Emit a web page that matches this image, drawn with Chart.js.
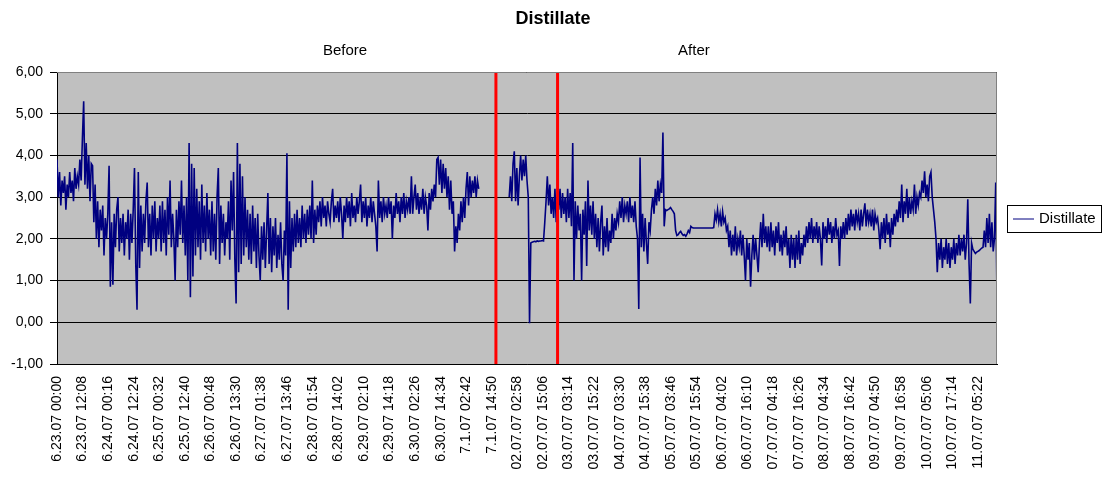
<!DOCTYPE html>
<html>
<head>
<meta charset="utf-8">
<script src="https://cdn.jsdelivr.net/npm/chart.js@4.4.1/dist/chart.umd.min.js"></script>
<style>
  html, body { margin: 0; padding: 0; background: #fff; }
  canvas { display: block; }
</style>
</head>
<body>
<canvas id="distChart" width="1108" height="482"></canvas>
<script>
// axis labels (one every ~12 h of samples)
const tickLabels = [
    "6.23.07 00:00", "6.23.07 12:08", "6.24.07 00:16", "6.24.07 12:24", "6.25.07 00:32",
    "6.25.07 12:40", "6.26.07 00:48", "6.26.07 13:30", "6.27.07 01:38", "6.27.07 13:46",
    "6.28.07 01:54", "6.28.07 14:02", "6.29.07 02:10", "6.29.07 14:18", "6.30.07 02:26",
    "6.30.07 14:34", "7.1.07 02:42", "7.1.07 14:50", "02.07.07 02:58", "02.07.07 15:06",
    "03.07.07 03:14", "03.07.07 15:22", "04.07.07 03:30", "04.07.07 15:38", "05.07.07 03:46",
    "05.07.07 15:54", "06.07.07 04:02", "06.07.07 16:10", "07.07.07 04:18", "07.07.07 16:26",
    "08.07.07 04:34", "08.07.07 16:42", "09.07.07 04:50", "09.07.07 16:58", "10.07.07 05:06",
    "10.07.07 17:14", "11.07.07 05:22"
];

// readings, 20 per label interval (null = no data)
const distillate = [
    3.9, 3.0, 3.6, 2.8, 3.4, 3.1, 3.5, 2.7, 3.3, 3.0, 3.6, 3.1, 3.4, 2.9, 3.7, 3.2, 3.5, 3.3, 3.9, 3.4,
    4.4, 5.3, 3.3, 4.3, 3.2, 4.0, 2.9, 3.8, 3.75, 2.4, 3.3, 2.0, 2.9, 1.8, 2.7, 2.2, 2.8, 1.6, 2.5, 2.0,
    2.6, 3.75, 0.85, 2.4, 0.9, 2.6, 1.8, 2.7, 3.0, 1.7, 2.5, 1.9, 2.6, 1.6, 2.4, 2.0, 2.7, 1.5, 2.6, 1.9,
    2.7, 3.7, 1.4, 0.3, 3.6, 1.3, 2.8, 1.7, 2.6, 1.9, 2.9, 3.35, 1.8, 2.6, 1.6, 2.8, 2.0, 2.9, 1.7, 2.5,
    2.0, 2.8, 1.7, 2.9, 1.9, 2.7, 1.6, 3.0, 2.1, 3.4, 1.8, 2.6, 2.0, 1.0, 2.7, 1.8, 2.9, 2.1, 3.4, 1.9,
    2.8, 1.6, 3.0, 1.0, 4.3, 0.6, 3.8, 1.1, 3.7, 1.6, 3.2, 1.8, 2.9, 1.5, 3.3, 1.9, 2.8, 1.7, 3.1, 2.0,
    2.7, 1.6, 2.9, 1.7, 2.6, 1.5, 3.0, 3.7, 1.4, 2.8, 1.9, 2.6, 1.6, 2.4, 2.0, 2.9, 1.5, 3.4, 2.2, 3.6,
    1.5, 0.45, 4.3, 1.2, 3.8, 1.4, 3.5, 1.6, 3.0, 1.8, 2.7, 1.5, 2.6, 1.4, 2.8, 1.7, 2.5, 1.3, 2.6, 1.6,
    1.0, 2.3, 1.5, 2.4, 1.3, 2.2, 3.1, 1.4, 2.5, 1.2, 2.3, 1.6, 2.5, 1.3, 2.1, 1.5, 2.4, 1.4, 1.0, 2.2,
    1.6, 4.05, 0.3, 2.9, 1.3, 2.5, 1.7, 2.6, 1.8, 2.7, 1.9, 2.5, 1.8, 2.8, 2.0, 2.6, 1.9, 2.7, 2.1, 2.8,
    2.0, 3.4, 1.9, 2.7, 2.1, 2.8, 2.4, 2.9, 2.3, 3.0, 2.5, 2.8, 2.3, 2.9, 2.6, 2.4, 2.9, 3.2, 2.4, 2.8,
    2.5, 2.9, 2.4, 3.0, 2.6, 2.0, 2.8, 2.4, 3.0, 2.5, 2.9, 2.3, 3.1, 2.5, 2.8, 2.4, 3.0, 2.6, 2.9, 3.3,
    2.4, 2.9, 2.5, 3.0, 2.3, 2.8, 2.5, 3.0, 2.4, 2.9, 2.6, 2.3, 1.7, 3.4, 2.5, 2.9, 2.4, 3.0, 2.6, 2.8,
    2.5, 3.0, 2.6, 2.9, 2.0, 2.8, 2.5, 3.1, 2.6, 2.9, 2.4, 3.0, 2.6, 3.1, 2.5, 2.9, 2.7, 3.0, 2.6, 3.5,
    2.6, 3.0, 3.3, 2.7, 3.1, 2.6, 3.0, 2.7, 3.2, 2.6, 3.0, 2.8, 2.2, 3.1, 2.7, 3.2, 2.9, 3.3, 3.0, 3.9,
    3.95, 3.3, 3.9, 3.1, 3.8, 3.2, 3.7, 3.0, 3.5, 2.7, 3.4, 2.6, 2.9, 1.7, 2.3, 1.9, 2.6, 2.2, 2.9, 2.4,
    3.0, 2.5, 3.2, 3.6, 2.8, 3.5, 3.0, 3.4, 3.1, 3.5, 3.0, 3.4, 3.2, null, null, null, null, null, null, null,
    null, null, null, null, null, null, null, null, null, null, null, null, null, null, null, null, 3.0, 3.5, 2.9, 3.8,
    4.1, 2.9, 3.7, 2.8, 3.5, 4.0, 3.4, 3.9, 3.5, 4.0, 3.4, 3.0, -0.02, 1.9, 1.92, 1.93, 1.94, 1.93, 1.95, 1.94,
    1.95, 1.95, 1.96, 1.95, 2.4, 2.9, 3.5, 2.8, 3.3, 2.6, 3.0, 2.5, 3.2, 2.4, 3.0, 2.7, 3.2, 2.5, 3.1, 2.6,
    3.0, 2.4, 3.2, 2.5, 3.1, 2.3, 4.3, 1.0, 2.9, 2.0, 2.8, 2.2, 2.6, 1.0, 2.7, 2.1, 2.9, 1.35, 3.4, 2.2,
    2.8, 2.1, 2.9, 2.0, 2.6, 1.8, 2.5, 1.7, 2.4, 2.8, 1.6, 2.3, 1.8, 2.5, 1.7, 2.2, 1.9, 2.6, 2.0, 2.5,
    2.2, 2.6, 2.4, 2.9, 2.5, 3.0, 2.4, 2.8, 2.6, 2.9, 2.4, 3.0, 2.5, 2.8, 2.4, 2.9, 2.3, 2.0, 0.32, 3.95,
    1.8, 2.6, 1.7, 2.5, 1.9, 1.4, 2.4, 2.2, 2.7, 3.0, 2.6, 3.2, 2.8, 3.4, 2.9, 3.3, 3.1, 4.55, 2.3, 2.7,
    2.68, 2.7, 2.72, 2.75, 2.7, 2.66, 2.6, 2.2, 2.08, 2.1, 2.15, 2.18, 2.12, 2.08, 2.1, 2.06, 2.12, 2.2, 2.15, 2.3,
    2.27, 2.26, 2.26, 2.26, 2.26, 2.26, 2.26, 2.26, 2.26, 2.26, 2.26, 2.26, 2.26, 2.26, 2.26, 2.26, 2.26, 2.27, 2.6, 2.45,
    2.7, 2.4, 2.6, 2.3, 2.65, 2.4, 2.5, 2.2, 2.3, 1.8, 2.2, 1.6, 2.1, 1.7, 2.3, 1.6, 2.0, 1.8, 2.2, 1.6,
    2.1, 1.6, 1.0, 2.0, 1.5, 1.9, 0.85, 1.6, 2.1, 1.5, 2.0, 1.6, 1.2, 1.9, 2.4, 1.8, 2.6, 1.9, 2.3, 1.8,
    2.3, 1.7, 2.4, 1.8, 2.2, 1.6, 2.3, 1.9, 2.4, 1.7, 2.1, 1.6, 2.2, 1.8, 2.3, 1.6, 2.0, 1.3, 2.1, 1.5,
    2.0, 1.3, 2.1, 1.5, 2.2, 1.4, 1.9, 1.6, 2.1, 1.8, 2.3, 1.9, 2.4, 2.0, 2.5, 1.9, 2.3, 2.0, 2.4, 1.9,
    2.3, 2.0, 1.36, 2.4, 2.0, 2.3, 1.9, 2.5, 2.1, 2.4, 1.9, 2.3, 2.0, 2.5, 2.1, 2.2, 1.35, 2.3, 2.0, 2.4,
    2.0, 2.5, 2.1, 2.6, 2.2, 2.7, 2.3, 2.6, 2.2, 2.7, 2.4, 2.6, 2.2, 2.7, 2.3, 2.6, 2.85, 2.3, 2.7, 2.4,
    2.6, 2.3, 2.7, 2.2, 2.6, 2.4, 2.5, 2.2, 1.75, 2.4, 2.0, 2.5, 1.9, 2.6, 2.1, 2.4, 1.8, 2.5, 2.1, 2.6,
    2.3, 2.7, 2.4, 2.9, 2.5, 3.3, 2.4, 2.9, 2.6, 3.2, 2.5, 3.0, 2.6, 2.9, 2.7, 3.3, 2.6, 3.0, 2.8, 3.1,
    3.0, 3.4, 3.1, 3.62, 3.0, 3.3, 2.9, 3.5, 3.6, 3.0, 2.7, 2.4, 2.0, 1.2, 1.9, 1.5, 2.0, 1.3, 1.8, 1.5,
    2.0, 1.4, 1.9, 1.3, 1.8, 1.5, 2.0, 1.4, 1.9, 1.6, 2.1, 1.6, 2.0, 1.7, 2.1, 1.5, 1.9, 2.95, 1.4, 0.45,
    1.9, 1.75, 1.7, 1.65, 1.68, 1.7, 1.72, 1.75, 1.78, 1.8, 2.2, 1.8, 2.5, 1.9, 2.6, 1.8, 2.4, 1.7, 2.0, 3.35,
    0.5
];

// red markers (position in label units) and section captions
const switchTimes = [17.16, 19.57];
const sectionNames = ["Before", "After"];
const sectionAt = [11.26, 24.9];

const X_MAX = 36.75;
const step = X_MAX / (distillate.length - 1);
const points = distillate.map((v, i) => ({ x: i * step, y: v }));

Chart.defaults.font.family = '"Liberation Sans", Arial, sans-serif';
Chart.defaults.color = "#000";

const FONT = '"Liberation Sans", Arial, sans-serif';

const decorations = {
    id: "decorations",
    beforeDraw(chart) {
        const { ctx, chartArea: a } = chart;
        ctx.save();
        ctx.fillStyle = "#c0c0c0";
        ctx.fillRect(a.left, a.top, a.right - a.left, a.bottom - a.top);
        ctx.restore();
    },
    afterDraw(chart) {
        const { ctx, chartArea: a, scales } = chart;
        ctx.save();
        // frame top/right
        ctx.strokeStyle = "#808080";
        ctx.lineWidth = 1;
        ctx.beginPath();
        ctx.moveTo(a.left, a.top + 0.5);
        ctx.lineTo(a.right - 0.5, a.top + 0.5);
        ctx.lineTo(a.right - 0.5, a.bottom);
        ctx.stroke();

        // title
        ctx.fillStyle = "#000";
        ctx.textAlign = "center";
        ctx.textBaseline = "middle";
        ctx.font = "bold 18px " + FONT;
        ctx.fillText("Distillate", 553, 19);

        // before / after captions
        ctx.font = "15px " + FONT;
        sectionNames.forEach((name, i) => {
            ctx.fillText(name, scales.x.getPixelForValue(sectionAt[i]), 51);
        });

        // legend
        const lx = 1007, ly = 205, lw = 94, lh = 27;
        ctx.strokeStyle = "#000";
        ctx.strokeRect(lx + 0.5, ly + 0.5, lw, lh);
        ctx.strokeStyle = "#000080";
        ctx.beginPath();
        ctx.moveTo(lx + 6, ly + 14);
        ctx.lineTo(lx + 27, ly + 14);
        ctx.stroke();
        ctx.textAlign = "left";
        ctx.font = "15px " + FONT;
        ctx.fillText("Distillate", lx + 32, ly + 14);
        ctx.restore();
    }
};

const ctx = document.getElementById("distChart").getContext("2d");

new Chart(ctx, {
    type: "line",
    data: {
        datasets: [
            ...switchTimes.map(t => ({
                label: "switch",
                data: [{ x: t, y: -1 }, { x: t, y: 6 }],
                borderColor: "#ff0000",
                borderWidth: 3,
                pointRadius: 0,
                order: -1
            })),
            {
                label: "Distillate",
                data: points,
                borderColor: "#000080",
                borderWidth: 1.6,
                pointRadius: 0,
                tension: 0,
                spanGaps: false
            }
        ]
    },
    options: {
        responsive: false,
        animation: false,
        layout: {
            padding: { top: 72, right: 111, left: 0, bottom: 0 }
        },
        plugins: {
            legend: { display: false },
            tooltip: { enabled: false },
            title: { display: false }
        },
        scales: {
            x: {
                type: "linear",
                min: 0,
                max: X_MAX,
                afterBuildTicks: s => { s.ticks = tickLabels.map((_, i) => ({ value: i })); },
                afterFit: s => { s.height = 118; },
                grid: { display: false },
                border: { display: true, color: "#000" },
                ticks: {
                    autoSkip: false,
                    maxRotation: 90,
                    minRotation: 90,
                    padding: 4,
                    font: { size: 14 },
                    callback: v => tickLabels[v]
                }
            },
            y: {
                min: -1,
                max: 6,
                afterFit: s => { s.width = 57; },
                grid: { color: "#000", tickLength: 7, lineWidth: 1 },
                border: { color: "#000" },
                ticks: {
                    stepSize: 1,
                    padding: 7,
                    font: { size: 14 },
                    callback: v => v.toFixed(2).replace(".", ",")
                }
            }
        }
    },
    plugins: [decorations]
});
</script>
</body>
</html>
